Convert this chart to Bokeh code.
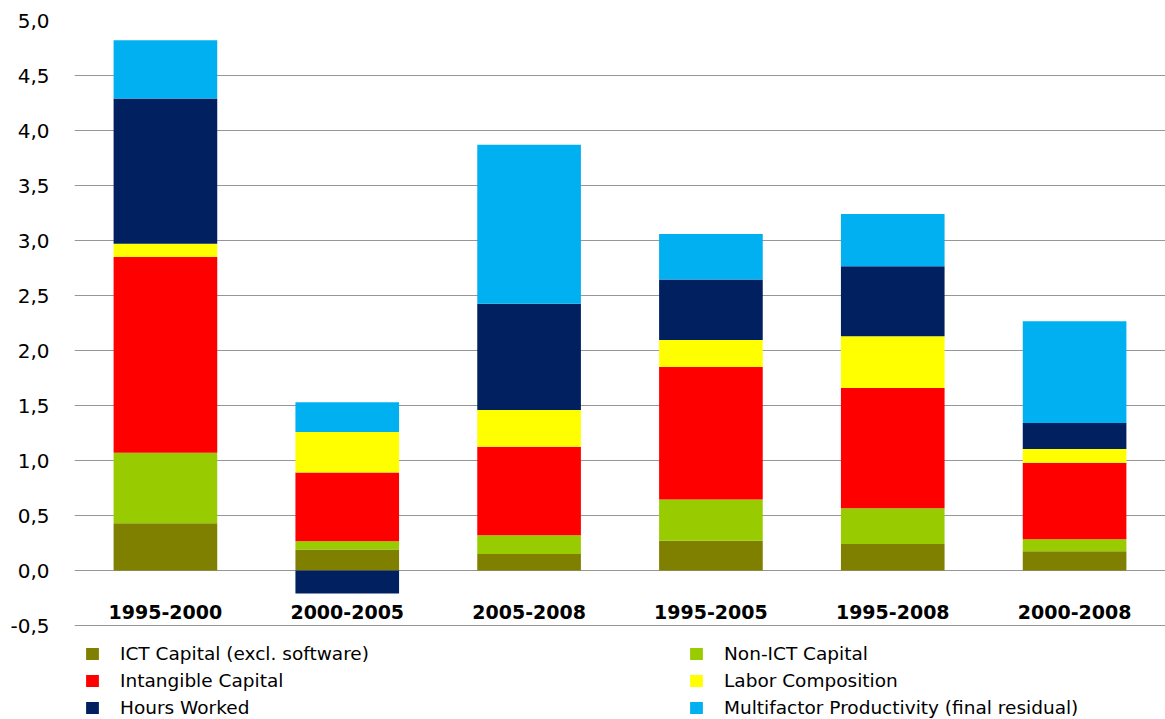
from bokeh.plotting import figure
from bokeh.models import ColumnDataSource, FactorRange, Range1d, Legend, LegendItem
from bokeh.embed import file_html
from bokeh.resources import INLINE

# ---- data ----
periods = ["1995-2000", "2000-2005", "2005-2008", "1995-2005", "1995-2008", "2000-2008"]
ict_capital = [0.43, 0.19, 0.15, 0.27, 0.24, 0.175]
non_ict_capital = [0.64, 0.075, 0.17, 0.375, 0.325, 0.11]
intangible_capital = [1.78, 0.625, 0.805, 1.205, 1.095, 0.695]
labor_composition = [0.12, 0.37, 0.335, 0.245, 0.47, 0.125]
hours_worked = [1.32, -0.21, 0.965, 0.55, 0.635, 0.235]
multifactor_productivity = [0.53, 0.27, 1.445, 0.415, 0.475, 0.925]

series_names = [
    "ICT Capital (excl. software)",
    "Non-ICT Capital",
    "Intangible Capital",
    "Labor Composition",
    "Hours Worked",
    "Multifactor Productivity (final residual)",
]
series_values = [ict_capital, non_ict_capital, intangible_capital,
                 labor_composition, hours_worked, multifactor_productivity]
colors = ["#808000", "#99CC00", "#FF0000", "#FFFF00", "#002060", "#00B0F0"]

y_ticks = [-0.5, 0.0, 0.5, 1.0, 1.5, 2.0, 2.5, 3.0, 3.5, 4.0, 4.5, 5.0]
y_tick_labels = ["-0,5", "0,0", "0,5", "1,0", "1,5", "2,0", "2,5", "3,0", "3,5", "4,0", "4,5", "5,0"]

# ---- layout constants (pixels) ----
W, H = 1165, 719
TOP, LEFT = 20, 74
PX_PER_UNIT = 110.0          # 0.5 units = 55 px
Y_MAX = 5.0
y_min_frame = Y_MAX - (H - TOP) / PX_PER_UNIT   # frame extends down to hold the legend

# ---- figure ----
p = figure(
    x_range=FactorRange(*periods, range_padding=0),
    y_range=Range1d(y_min_frame, Y_MAX),
    width=W, height=H,
    output_backend="svg", toolbar_location=None,
    min_border_left=LEFT, min_border_right=0, min_border_top=TOP, min_border_bottom=0,
)
p.outline_line_color = None
p.background_fill_color = "white"
p.border_fill_color = "white"

# stacked bars: positives stack upward, negatives downward (as in Excel)
pos_base = [0.0] * len(periods)
neg_base = [0.0] * len(periods)
renderers = []
for name, vals, col in zip(series_names, series_values, colors):
    bottoms, tops = [], []
    for i, v in enumerate(vals):
        if v >= 0:
            bottoms.append(pos_base[i]); tops.append(pos_base[i] + v)
            pos_base[i] += v
        else:
            tops.append(neg_base[i]); bottoms.append(neg_base[i] + v)
            neg_base[i] += v
    src = ColumnDataSource(dict(period=periods, bottom=bottoms, top=tops))
    r = p.vbar(x="period", bottom="bottom", top="top", width=0.57, source=src,
               fill_color=col, line_color=None)
    renderers.append(r)

# grid
p.xgrid.grid_line_color = None
p.ygrid.grid_line_color = "#969696"
p.ygrid.grid_line_width = 1

# y axis
p.yaxis.ticker = y_ticks
p.yaxis.major_label_overrides = dict(zip(y_ticks, y_tick_labels))
p.yaxis.axis_line_color = None
p.yaxis.major_tick_line_color = None
p.yaxis.minor_tick_line_color = None
p.yaxis.major_tick_out = 0
p.yaxis.major_tick_in = 0
p.yaxis.minor_tick_out = 0
p.yaxis.major_label_standoff = 25
p.yaxis.major_label_text_font = "DejaVu Sans"
p.yaxis.major_label_text_font_size = "20px"
p.yaxis.major_label_text_color = "black"

# x axis at zero
p.xaxis.fixed_location = 0
p.xaxis.axis_line_color = None
p.xaxis.major_tick_line_color = None
p.xaxis.minor_tick_line_color = None
p.xaxis.major_tick_out = 0
p.xaxis.major_tick_in = 0
p.xaxis.major_label_standoff = 34
p.xaxis.major_label_text_font = "DejaVu Sans"
p.xaxis.major_label_text_font_style = "bold"
p.xaxis.major_label_text_font_size = "19px"
p.xaxis.major_label_text_color = "black"

# legends: two columns of three rows
def make_legend(idx, x):
    return Legend(
        items=[LegendItem(label=series_names[i], renderers=[renderers[i]]) for i in idx],
        location=(x, 1),
        orientation="vertical",
        border_line_color=None,
        background_fill_alpha=0,
        padding=0, margin=0, spacing=5,
        label_height=22, glyph_height=15, glyph_width=16, label_standoff=20,
        label_text_font="DejaVu Sans", label_text_font_size="18.5px",
        label_text_color="black",
    )

p.add_layout(make_legend([0, 2, 4], 10), "center")
p.add_layout(make_legend([1, 3, 5], 614), "center")

open("out.html", "w").write(file_html(p, INLINE))
